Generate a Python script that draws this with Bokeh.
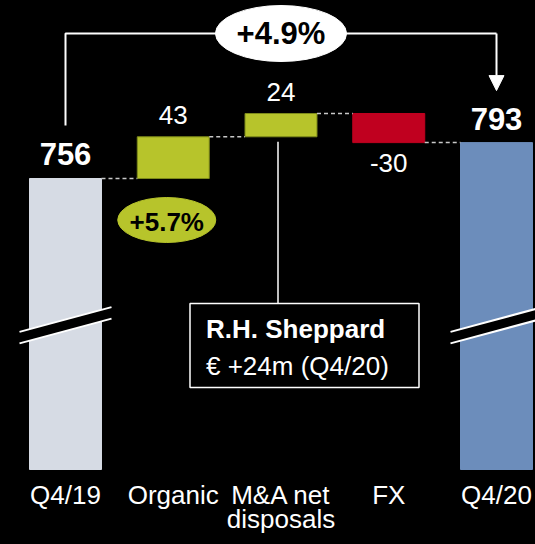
from bokeh.plotting import figure
from bokeh.models import Range1d, Arrow, NormalHead, GlobalInlineStyleSheet
from bokeh.embed import file_html
from bokeh.resources import INLINE
from bokeh.core.properties import value

# ---------------- data ----------------
categories = ["Q4/19", "Organic", "M&A net\ndisposals", "FX", "Q4/20"]
start_total = 756
deltas = [43, 24, -30]          # Organic, M&A net disposals, FX
end_total = 793
delta_labels = ["43", "24", "-30"]
growth_total = "+4.9%"
growth_organic = "+5.7%"
callout_title = "R.H. Sheppard"
callout_text = "€ +24m (Q4/20)"

# ---------------- layout ----------------
W, H = 535, 544
KX = 107.75          # px per category
KY = 0.97            # px per value unit
X_START = -65 / KX
Y_TOP = start_total + 178 / KY
Y_BOTTOM = Y_TOP - H / KY
BASE = Y_TOP - 469 / KY  # broken-axis bar base


def dx(px):
    return px / KX


def dy(px):
    return px / KY


def tb(size):
    # baseline correction for svg text (px -> data)
    return dy(0.4 * size)


FONT = value("Liberation Sans")
GREEN = "#b7c42b"
GREEN_EDGE = "#7d8a1a"
RED = "#c0001f"
START_COL = "#d6dbe4"
END_COL = "#6c8dbb"
BAR_W = 0.668

# waterfall geometry from data
xs = list(range(len(categories)))
bottoms, tops = [BASE], [start_total]
run = start_total
for d in deltas:
    nxt = run + d
    bottoms.append(min(run, nxt))
    tops.append(max(run, nxt))
    run = nxt
bottoms.append(BASE)
tops.append(end_total)
colors = [START_COL] + [GREEN if d > 0 else RED for d in deltas] + [END_COL]
edges = [START_COL] + [GREEN_EDGE if d > 0 else RED for d in deltas] + [END_COL]

p = figure(width=W, height=H, output_backend="svg", toolbar_location=None,
           x_range=Range1d(X_START, X_START + W / KX),
           y_range=Range1d(Y_BOTTOM, Y_TOP), min_border=0)
p.background_fill_color = "black"
p.border_fill_color = "black"
p.outline_line_color = None
p.axis.visible = False
p.grid.visible = False
p.stylesheets = [GlobalInlineStyleSheet(css="html, body { background-color: #000000; }")]

p.vbar(x=xs, bottom=bottoms, top=tops, width=BAR_W, fill_color=colors,
       line_color=edges, line_width=1)

# axis breaks on total bars
for i in (0, len(categories) - 1):
    hw = dx(46)
    rise = dy(12.4)
    y1 = BASE + dy(150)
    y2 = BASE + dy(138.5)
    p.patch([i - hw, i + hw, i + hw, i - hw],
            [y1 - rise, y1 + rise, y2 + rise, y2 - rise],
            fill_color="black", line_color=None)
    p.line([i - hw, i + hw], [y1 - rise, y1 + rise], line_color="white", line_width=2)
    p.line([i - hw, i + hw], [y2 - rise, y2 + rise], line_color="white", line_width=2)

# connectors
levels = [start_total]
run = start_total
for d in deltas:
    run += d
    levels.append(run)
for i, lv in enumerate(levels):
    p.line([i + BAR_W / 2, i + 1 - BAR_W / 2], [lv, lv], line_color="#c8c8c8",
           line_width=1.5, line_dash="4 3")

# value labels
p.text(x=[0, len(categories) - 1],
       y=[start_total + dy(12) + tb(31), end_total + dy(11) + tb(31)],
       text=[str(start_total), str(end_total)], text_font=FONT, text_font_style="bold",
       text_font_size="31px", text_color="white", text_align="center",
       text_baseline="alphabetic")
lx, ly = [], []
for k, d in enumerate(deltas):
    i = k + 1
    lx.append(i)
    ly.append((tops[i] + dy(11) if d > 0 else bottoms[i] - dy(31)) + tb(26))
p.text(x=lx, y=ly, text=delta_labels, text_font=FONT, text_font_size="26px",
       text_color="white", text_align="center", text_baseline="alphabetic")

# category labels (two lines)
line1 = [c.split("\n")[0] for c in categories]
line2 = [c.split("\n")[1] if "\n" in c else "" for c in categories]
p.text(x=xs, y=[BASE - dy(36) + tb(26)] * len(xs), text=line1, text_font=FONT,
       text_font_size="26px", text_color="white", text_align="center",
       text_baseline="alphabetic")
p.text(x=xs, y=[BASE - dy(60) + tb(26)] * len(xs), text=line2, text_font=FONT,
       text_font_size="26px", text_color="white", text_align="center",
       text_baseline="alphabetic")

# total growth bracket
top_max = max(tops)
by = top_max + dy(80)
last = len(categories) - 1
p.line([0, 0, last, last], [start_total + dy(53), by, by, by],
       line_color="white", line_width=2)
p.add_layout(Arrow(end=NormalHead(size=15, fill_color="white", line_color="white"),
                   x_start=last, y_start=by, x_end=last, y_end=end_total + dy(52),
                   line_color="white", line_width=2))
p.ellipse(x=[2], y=[by], width=131, height=56, width_units="screen",
          height_units="screen", fill_color="white", line_color="white")
p.text(x=[2], y=[by - dy(12) + tb(31)], text=[growth_total], text_font=FONT,
       text_font_style="bold", text_font_size="31px", text_color="black",
       text_align="center", text_baseline="alphabetic")

# organic growth bubble
ex = 1 - dx(6.5)
ey = start_total - dy(41.5)
p.ellipse(x=[ex], y=[ey], width=98, height=45, width_units="screen",
          height_units="screen", fill_color=GREEN, line_color=GREEN)
p.text(x=[ex], y=[ey - dy(12) + tb(26)], text=[growth_organic], text_font=FONT,
       text_font_style="bold", text_font_size="26px", text_color="black",
       text_align="center", text_baseline="alphabetic")

# callout
cx = 2 - dx(3)
box_top = BASE + dy(166)
box_bot = BASE + dy(82)
p.line([cx, cx], [bottoms[2] - dy(5), box_top], line_color="white", line_width=1.5)
p.quad(left=[2 - dx(91)], right=[2 + dx(138)], top=[box_top], bottom=[box_bot],
       fill_color="black", line_color="white", line_width=1.5)
p.text(x=[2 - dx(75)], y=[BASE + dy(130) + tb(26)], text=[callout_title], text_font=FONT,
       text_font_style="bold", text_font_size="26px", text_color="white",
       text_align="left", text_baseline="alphabetic")
p.text(x=[2 - dx(75)], y=[BASE + dy(93) + tb(26)], text=[callout_text], text_font=FONT,
       text_font_size="26px", text_color="white", text_align="left",
       text_baseline="alphabetic")

open("out.html", "w").write(file_html(p, INLINE))
